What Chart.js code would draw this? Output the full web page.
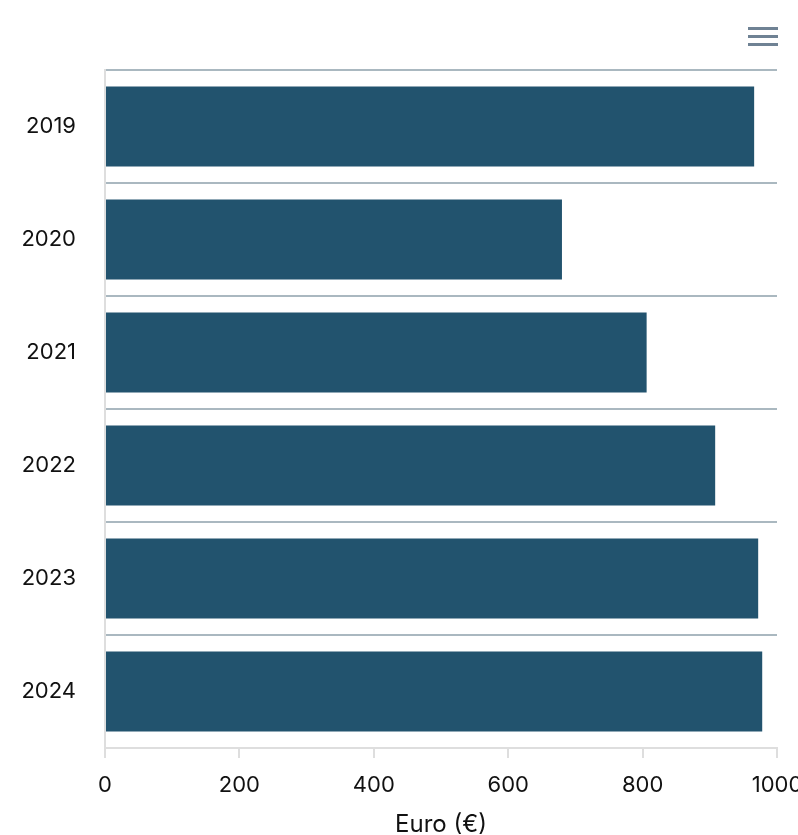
<!DOCTYPE html>
<html>
<head>
<meta charset="utf-8">
<script src="https://cdn.jsdelivr.net/npm/chart.js@4/dist/chart.umd.min.js"></script>
<style>
  html, body { margin: 0; padding: 0; background: #fff; }
  #wrap { width: 798px; height: 835px; position: relative; }
</style>
</head>
<body>
<div id="wrap"><canvas id="chart" width="798" height="835"></canvas></div>
<script>
// Jahreswerte in Euro
const years = ['2019', '2020', '2021', '2022', '2023', '2024'];
const amounts = [966, 680, 806, 908, 972, 978];
const xTicks = [0, 200, 400, 600, 800, 1000];

const BAR_COLOR = '#22536e';
const GRID_COLOR = '#aab8c0';
const AXIS_COLOR = '#dedede';
const TEXT_COLOR = '#111';
const FONT = 'Inter, "Open Sans", sans-serif';

// Menü-Symbol oben rechts
const menuIcon = {
  id: 'menuIcon',
  afterDraw(chart) {
    const ctx = chart.ctx;
    ctx.save();
    ctx.strokeStyle = '#6f8294';
    ctx.lineWidth = 3;
    ctx.lineCap = 'butt';
    [28, 36, 44].forEach((y) => {
      ctx.beginPath();
      ctx.moveTo(748, y + 0.5);
      ctx.lineTo(778, y + 0.5);
      ctx.stroke();
    });
    ctx.restore();
  }
};

new Chart(document.getElementById('chart'), {
  type: 'bar',
  data: {
    labels: years,
    datasets: [{
      data: amounts,
      backgroundColor: BAR_COLOR,
      borderWidth: 0,
      barPercentage: 0.71,
      categoryPercentage: 1
    }]
  },
  plugins: [menuIcon],
  options: {
    indexAxis: 'y',
    responsive: false,
    animation: false,
    layout: { padding: { top: 70, right: 21, left: 0, bottom: 0 } },
    plugins: {
      legend: { display: false },
      tooltip: { enabled: false }
    },
    scales: {
      x: {
        min: 0,
        max: 1000,
        afterBuildTicks: (scale) => {
          scale.ticks = xTicks.map((v) => ({ value: v }));
        },
        afterFit: (scale) => {
          scale.height = 87;
          scale.paddingLeft = 0;
          scale.paddingRight = 0;
        },
        grid: {
          drawOnChartArea: false,
          drawTicks: true,
          tickLength: 10,
          color: AXIS_COLOR,
          lineWidth: 2
        },
        border: { display: true, color: AXIS_COLOR, width: 2 },
        ticks: {
          color: TEXT_COLOR,
          font: { family: FONT, size: 22 },
          padding: 14,
          maxRotation: 0,
          callback: (value) => String(value)
        },
        title: {
          display: true,
          text: 'Euro (€)',
          color: TEXT_COLOR,
          font: { family: FONT, size: 24 },
          padding: { top: 4, bottom: -4 }
        }
      },
      y: {
        afterFit: (scale) => {
          scale.width = 105;
          scale.paddingTop = 0;
          scale.paddingBottom = 0;
        },
        grid: {
          offset: true,
          drawTicks: false,
          color: (ctx) => (ctx.tick ? GRID_COLOR : 'transparent'),
          lineWidth: 2
        },
        border: { display: true, color: AXIS_COLOR, width: 2 },
        ticks: {
          color: TEXT_COLOR,
          font: { family: FONT, size: 22 },
          padding: 29
        }
      }
    }
  }
});
</script>
</body>
</html>
